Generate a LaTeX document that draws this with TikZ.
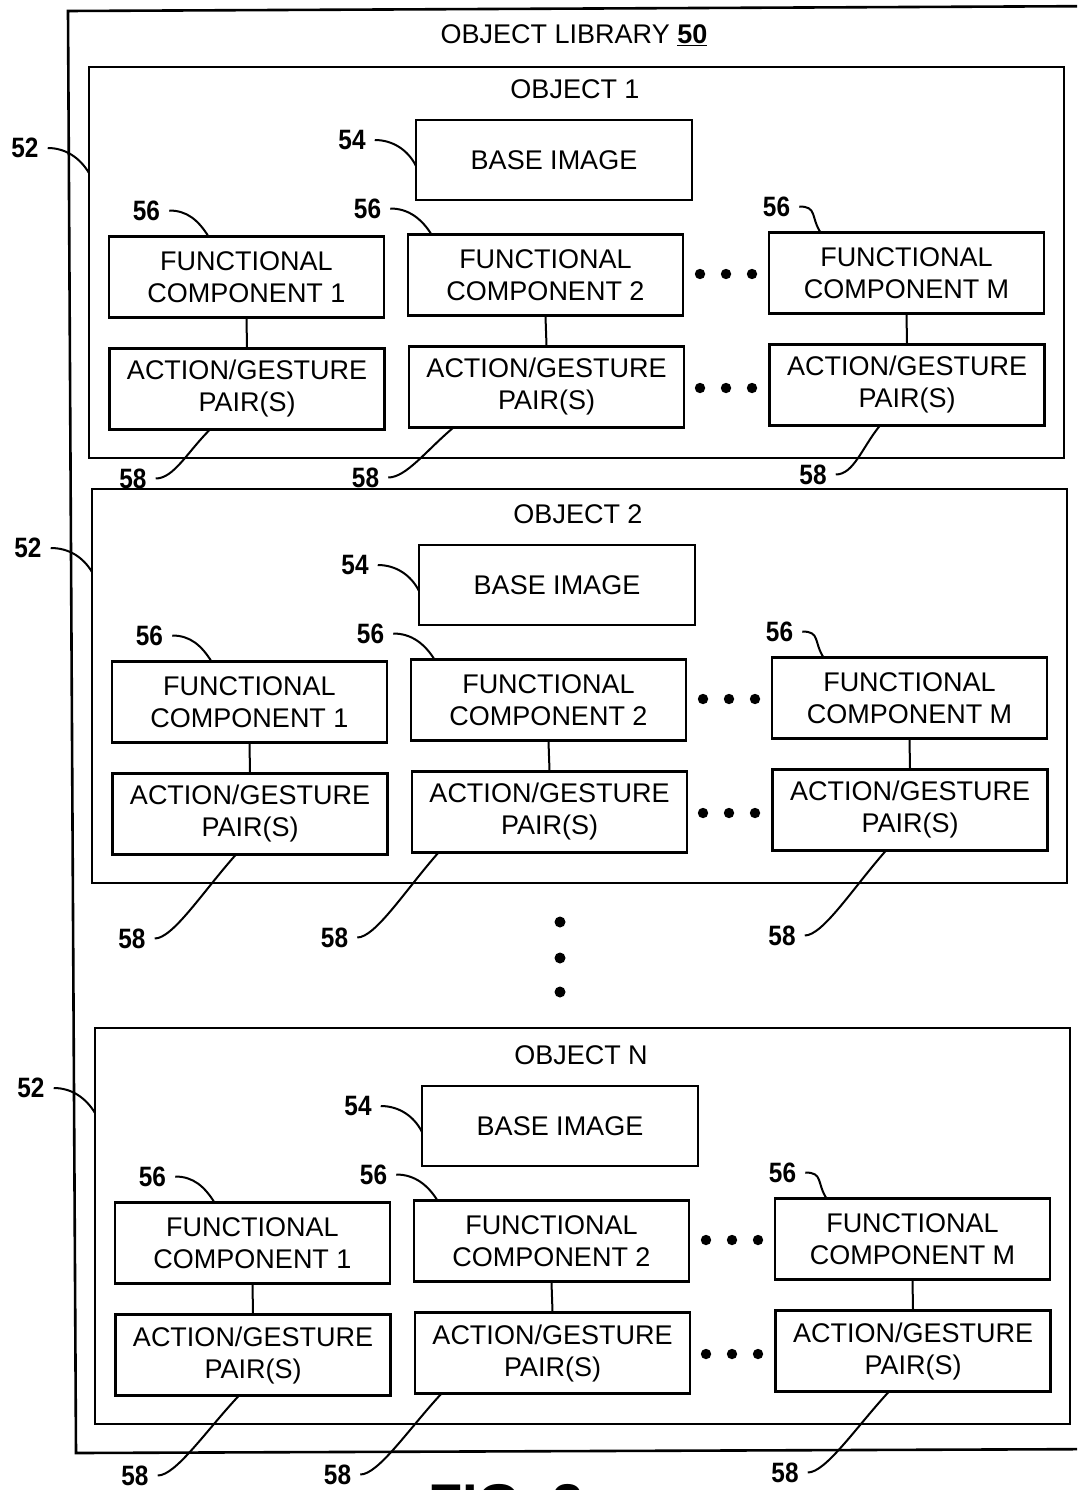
\documentclass[tikz,border=0pt]{standalone}
\usepackage{fontspec}
\setmainfont{Liberation Sans}
\newfontfamily\labfamily[FakeStretch=0.87]{Liberation Sans}
\newcommand\boxfnt{\fontsize{27}{32}\selectfont}
\newcommand\labfnt{\labfamily\bfseries\fontsize{28}{30}\selectfont}
\tikzset{
  box/.style={draw, line width=2.4pt, minimum width=275pt, minimum height=81pt, inner sep=0pt, align=center, font=\boxfnt},
  objbox/.style={draw, line width=2.4pt, minimum width=975pt, inner sep=0pt},
  txt/.style={font=\boxfnt, inner sep=0pt},
  lab/.style={font=\labfnt, inner sep=0pt},
  lead/.style={line width=2pt},
  conn/.style={line width=2pt},
  dotfill/.style={fill=black}
}
% #1 prefix, #2 dx, #3 dy, #4 title, #5 top, #6 52 label y, #7 52 attach y, #8 58 list
\newcommand\objblock[8]{%
\begin{scope}[shift={(#2,#3)}]
  \node[objbox, minimum height={(458-#5)*1pt}] (#1obj) at (576.5,{(458+#5)/2}) {};
  \node[txt] (#1title) at (575,89) {#4};
  \node[box, minimum width=276pt, minimum height=80pt] (#1base) at (554,160) {BASE IMAGE};
  \node[box] (#1fc1) at (246.5,277) {FUNCTIONAL\\COMPONENT 1};
  \node[box] (#1fc2) at (545.5,275) {FUNCTIONAL\\COMPONENT 2};
  \node[box] (#1fcm) at (906.5,273) {FUNCTIONAL\\COMPONENT M};
  \node[box] (#1ag1) at (247,389) {ACTION/GESTURE\\PAIR(S)};
  \node[box] (#1ag2) at (546.5,387) {ACTION/GESTURE\\PAIR(S)};
  \node[box] (#1agm) at (907,385) {ACTION/GESTURE\\PAIR(S)};
  \draw[conn] (#1fc1.south) -- (#1ag1.north);
  \draw[conn] (#1fc2.south) -- (#1ag2.north);
  \draw[conn] (#1fcm.south) -- (#1agm.north);
  \foreach \dx in {700,726,752} {
    \fill[dotfill] (\dx,274) circle (5.2);
    \fill[dotfill] (\dx,388) circle (5.2);
  }
  % 52
  \node[lab] (#1l52) at (25,#6) {52};
  \coordinate (#1a52) at (89,#7);
  \draw[lead] ([xshift=9pt]#1l52.east) .. controls +(18,0) and +(-9,-15) .. (#1a52);
  % 54
  \node[lab] (#1l54) at (352,140) {54};
  \coordinate (#1a54) at (416,166);
  \draw[lead] ([xshift=9pt]#1l54.east) .. controls +(18,0) and +(-8,-16) .. (#1a54);
  % 56
  \foreach \n/\cx/\ty/\lx/\ax in {1/246.5/236.5/-100/-38, 2/545.5/234.5/-178/-114, m/906.5/232.5/-130/-86} {
    \node[lab] (#1l56\n) at (\cx+\lx,\ty-26) {56};
    \coordinate (#1a56\n) at (\cx+\ax,\ty);
    \draw[lead] ([xshift=9pt]#1l56\n.east) .. controls +(18,0) and +(-10,-16) .. (#1a56\n);
  }
  % 58
  \foreach \n/\cx/\by/\lx/\ax/\dy in {#8} {
    \node[lab] (#1l58\n) at (\cx+\lx,\by+\dy) {58};
    \coordinate (#1a58\n) at (\cx+\ax,\by);
    \draw[lead] ([xshift=9pt]#1l58\n.east) .. controls +(18,0) and +({-0.42*(\ax-(\lx)-24)},{0.45*\dy}) .. (#1a58\n);
  }
\end{scope}}
\begin{document}
\begin{tikzpicture}[x=1pt,y=-1pt]
  \useasboundingbox (0,0) rectangle (1077,1490);
  \clip (0,0) rectangle (1077,1490);
  \fill[white] (0,0) rectangle (1077,1490);
  % outer library box (right side lies beyond the picture)
  \draw[line width=2.6pt] (1120,6) -- (68,11) -- (76,1453) -- (1120,1449);
  \node[txt] (libtitle) at (574,35) {OBJECT LIBRARY \underline{\textbf{50}}};
  \objblock{a}{0}{0}{OBJECT 1}{67}{148}{173}{1/247/429.5/-114/-37/49, 2/546.5/427.5/-181/-93/50, m/907/425.5/-94/-27/49}
  \objblock{b}{3}{425}{OBJECT 2}{64}{123}{147}{1/247/429.5/-118/-14/84, 2/546.5/427.5/-215/-111/85, m/907/425.5/-128/-24/85}
  \objblock{c}{6}{966}{OBJECT N}{62}{122}{147}{1/247/429.5/-118/-14/80, 2/546.5/427.5/-215/-111/81, m/907/425.5/-128/-24/81}
  % vertical ellipsis between objects
  \foreach \vy in {922,958,992} { \fill[dotfill] (560,\vy) circle (5.5); }
  % figure caption, cut off at the bottom edge as in the reference
  \node[font=\bfseries\fontsize{56}{60}\selectfont, anchor=base west, inner sep=0pt] (fig) at (428,1523) {FIG. 3};
\end{tikzpicture}
\end{document}
